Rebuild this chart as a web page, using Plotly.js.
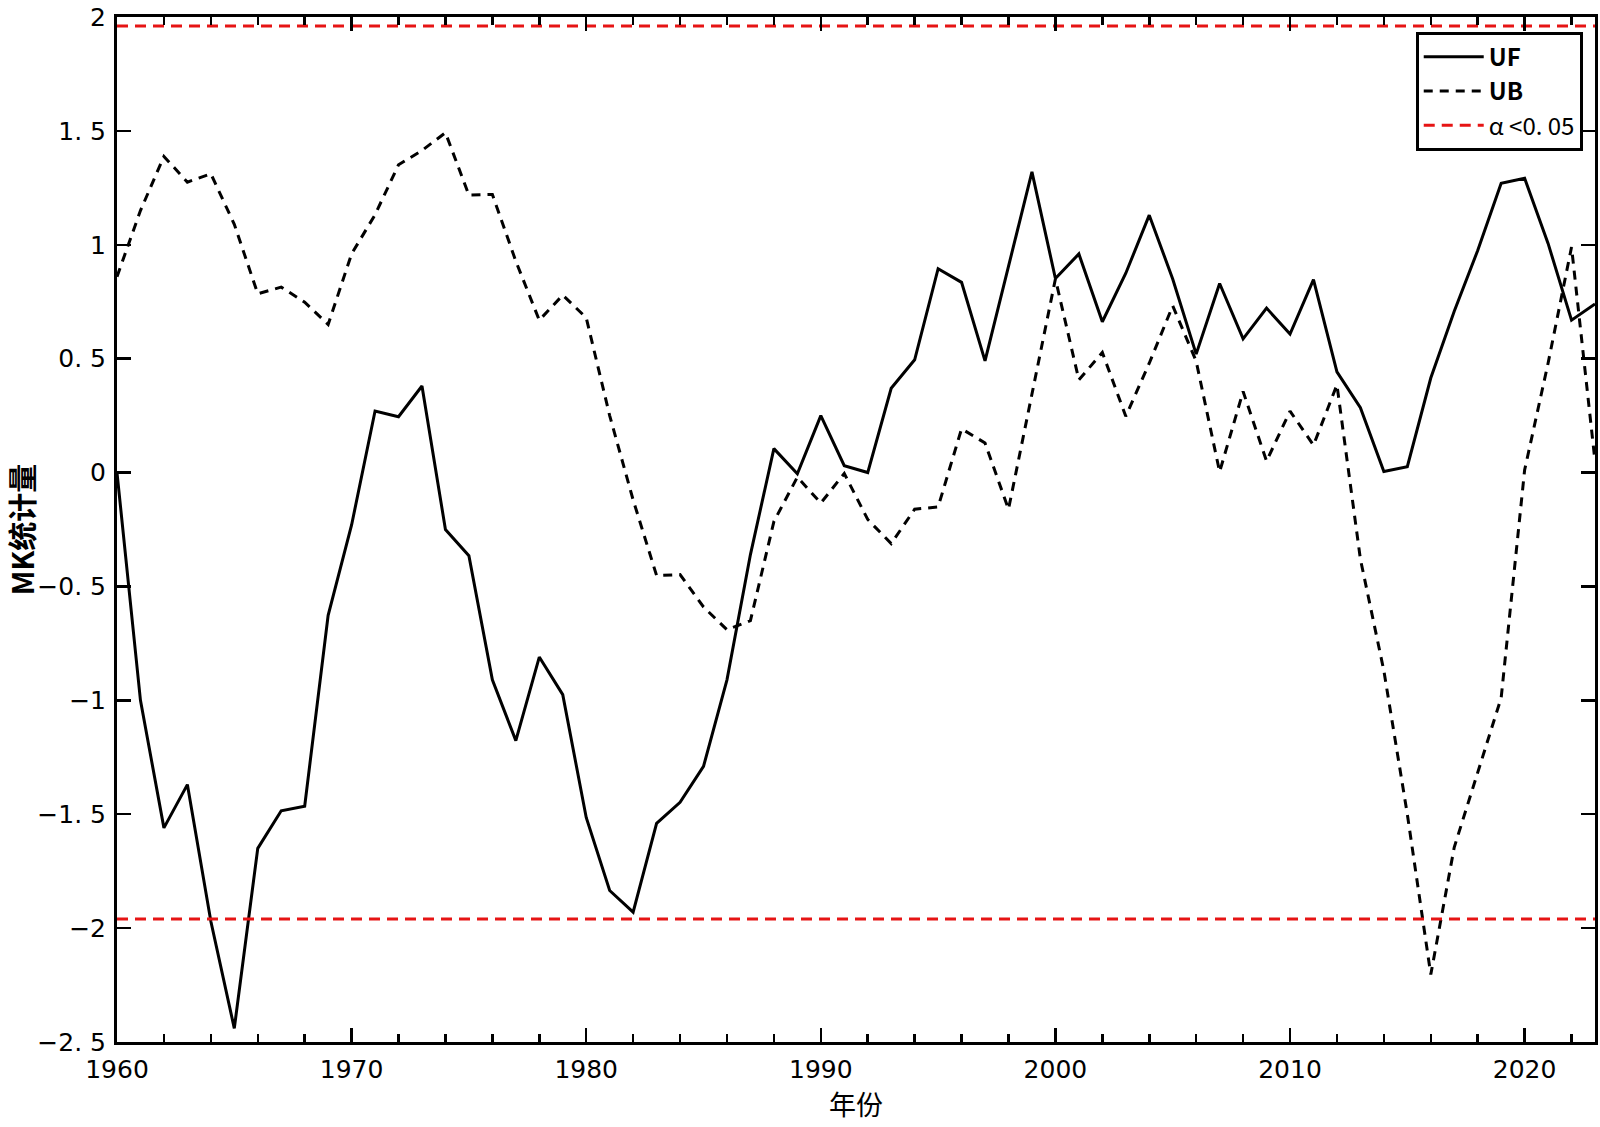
<!DOCTYPE html>
<html>
<head>
<meta charset="utf-8">
<script src="https://cdn.plot.ly/plotly-3.0.1.min.js"></script>
<style>
  html, body { margin: 0; padding: 0; background: #fff; }
  #chart { width: 1600px; height: 1127px; }
</style>
</head>
<body>
<div id="chart"></div>
<script>
const years = [];
for (let y = 1960; y <= 2023; y++) years.push(y);

const ufValues = [
  0.00, -1.00, -1.56, -1.37, -1.97, -2.44, -1.65, -1.485, -1.465, -0.627,
  -0.23, 0.27, 0.245, 0.38, -0.25, -0.365, -0.91, -1.177, -0.81, -0.975,
  -1.514, -1.835, -1.93, -1.54, -1.448, -1.29, -0.91, -0.36, 0.105, -0.005,
  0.25, 0.03, 0.00, 0.37, 0.495, 0.895, 0.835, 0.49, 0.905, 1.32,
  0.852, 0.96, 0.662, 0.875, 1.13, 0.85, 0.52, 0.83, 0.587, 0.722,
  0.608, 0.847, 0.442, 0.285, 0.005, 0.026, 0.415, 0.708, 0.975, 1.27,
  1.292, 1.006, 0.669, 0.74
];

const ubValues = [
  0.86, 1.15, 1.388, 1.275, 1.312, 1.09, 0.785, 0.814, 0.748, 0.65,
  0.96, 1.132, 1.351, 1.414, 1.492, 1.218, 1.221, 0.928, 0.669, 0.779,
  0.68, 0.25, -0.12, -0.452, -0.448, -0.59, -0.69, -0.65, -0.215, -0.02,
  -0.134, -0.004, -0.206, -0.312, -0.161, -0.151, 0.192, 0.13, -0.161, 0.35,
  0.85, 0.407, 0.527, 0.247, 0.48, 0.732, 0.489, 0.003, 0.356, 0.05,
  0.27, 0.12, 0.385, -0.38, -0.87, -1.5, -2.204, -1.645, -1.322, -0.989,
  0.011, 0.48, 0.99, 0.05
];

const criticalValue = 1.96;
const seriesNames = ['<b>UF</b>', '<b>UB</b>', 'α &lt;0. 05'];
const yTickVals = [-2.5, -2, -1.5, -1, -0.5, 0, 0.5, 1, 1.5, 2];
const yTickText = ['\u22122. 5', '\u22122', '\u22121. 5', '\u22121', '\u22120. 5', '0', '0. 5', '1', '1. 5', '2'];
const xTickVals = [1960, 1970, 1980, 1990, 2000, 2010, 2020];
const xTickText = ['1960', '1970', '1980', '1990', '2000', '2010', '2020'];
const xTitle = '年份';
const yTitle = 'MK统计量';

const xEnds = [years[0], years[years.length - 1]];
const red = 'rgb(230,20,20)';
const FONT = '"Noto Sans CJK SC", "Noto Sans", sans-serif';
const TICKFONT = '"DejaVu Sans", "Noto Sans", sans-serif';

const traces = [
  { x: years, y: ufValues, type: 'scatter', mode: 'lines', name: seriesNames[0],
    line: { color: 'black', width: 3 } },
  { x: years, y: ubValues, type: 'scatter', mode: 'lines', name: seriesNames[1],
    line: { color: 'black', width: 3, dash: '9px,7px' } },
  { x: xEnds, y: [criticalValue, criticalValue], type: 'scatter', mode: 'lines', name: seriesNames[2],
    line: { color: red, width: 3, dash: '11px,7px' } },
  { x: xEnds, y: [-criticalValue, -criticalValue], type: 'scatter', mode: 'lines', name: seriesNames[2],
    showlegend: false, line: { color: red, width: 3, dash: '11px,7px' } }
];

const layout = {
  width: 1600, height: 1127,
  margin: { l: 117, r: 5, t: 17, b: 85 },
  paper_bgcolor: 'white', plot_bgcolor: 'white',
  font: { family: FONT, size: 25, color: 'black' },
  showlegend: true,
  legend: {
    x: 0.9917, xanchor: 'right', y: 0.9857, yanchor: 'top',
    bgcolor: 'white', bordercolor: 'black', borderwidth: 3,
    font: { family: FONT, size: 24, color: 'black' },
    tracegroupgap: 0, itemwidth: 60
  },
  xaxis: {
    range: [1960, 2023],
    tickmode: 'array', tickvals: xTickVals, ticktext: xTickText,
    ticks: 'inside', ticklen: 14, tickwidth: 2.5, tickcolor: 'black',
    minor: { dtick: 2, tick0: 1960, ticks: 'inside', ticklen: 8, tickwidth: 2.5, tickcolor: 'black', showgrid: false },
    showline: true, linecolor: 'black', linewidth: 3, mirror: 'ticks',
    showgrid: false, zeroline: false, ticklabeloverflow: 'allow', ticklabelstandoff: 3,
    tickfont: { family: TICKFONT, size: 25, color: 'black' },
    title: { text: xTitle, font: { family: FONT, size: 27, color: 'black' }, standoff: 12 }
  },
  yaxis: {
    range: [-2.5, 2],
    tickmode: 'array', tickvals: yTickVals, ticktext: yTickText,
    ticks: 'inside', ticklen: 14, tickwidth: 2.5, tickcolor: 'black',
    showline: true, linecolor: 'black', linewidth: 3, mirror: 'ticks',
    showgrid: false, zeroline: false, ticklabeloverflow: 'allow', ticklabelstandoff: 3,
    tickfont: { family: TICKFONT, size: 25, color: 'black' },
    title: { text: yTitle, font: { family: FONT, size: 29, color: 'black', weight: 'bold' }, standoff: 12 }
  }
};

Plotly.newPlot('chart', traces, layout, { displayModeBar: false, staticPlot: true });
</script>
</body>
</html>
